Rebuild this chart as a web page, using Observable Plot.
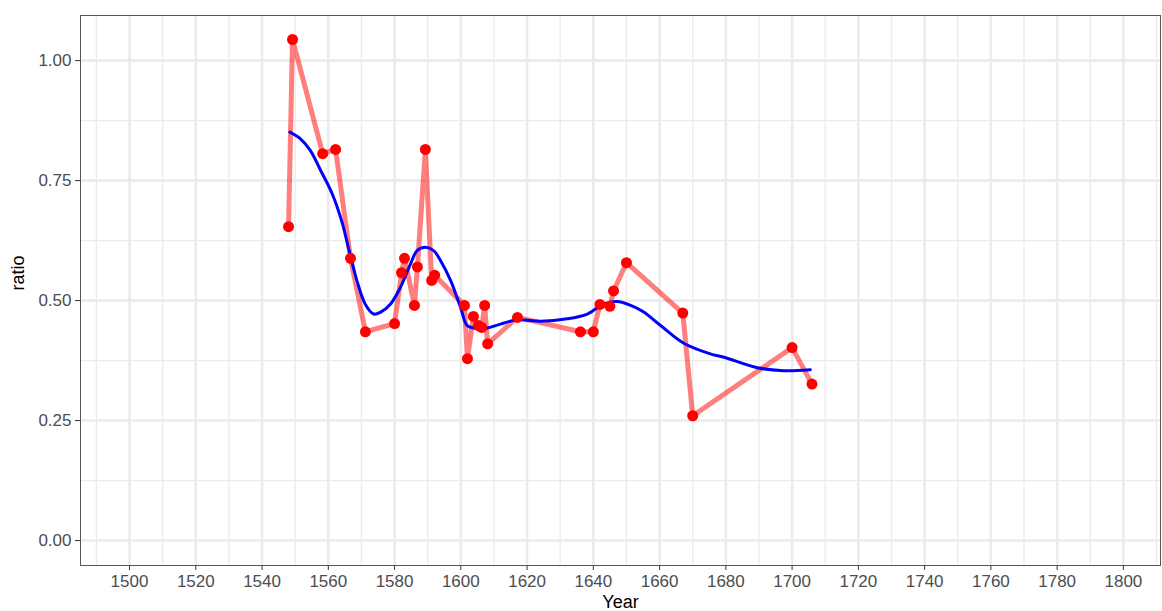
<!DOCTYPE html>
<html>
<head>
<meta charset="utf-8">
<script src="https://cdn.jsdelivr.net/npm/d3@7"></script>
<script src="https://cdn.jsdelivr.net/npm/@observablehq/plot@0.6"></script>
<style>
  html, body { margin: 0; padding: 0; background: #fff; }
  #chart svg { display: block; }
</style>
</head>
<body>
<div id="chart"></div>
<script>
// Observed data (Year, ratio)
const years = [1548.0, 1549.2, 1558.3, 1562.2, 1566.7, 1571.2, 1580.0, 1582.1, 1583.0, 1586.0,
  1586.9, 1589.3, 1591.2, 1592.1, 1601.1, 1602.0, 1603.8, 1605.3, 1606.3, 1607.2,
  1608.1, 1617.1, 1636.1, 1640.0, 1642.0, 1645.0, 1646.1, 1650.0, 1667.0, 1670.0,
  1700.0, 1706.0];
const ratios = [0.654, 1.044, 0.806, 0.815, 0.588, 0.435, 0.452, 0.558, 0.588, 0.490,
  0.570, 0.815, 0.542, 0.553, 0.490, 0.379, 0.467, 0.448, 0.444, 0.490,
  0.410, 0.465, 0.435, 0.435, 0.492, 0.488, 0.520, 0.579, 0.474, 0.260,
  0.402, 0.326];

// Smoothed trend
const smoothYears = [1548.4, 1551.6, 1554.6, 1557.7, 1561.2, 1564.2, 1565.7, 1568.7, 1571.2, 1573.7,
  1575.8, 1578.8, 1581.8, 1584.8, 1586.8, 1589.3, 1591.8, 1593.9, 1596.9, 1599.9,
  1601.9, 1603.9, 1608.0, 1612.0, 1617.0, 1624.1, 1632.1, 1638.2, 1643.2, 1647.2,
  1651.3, 1655.2, 1660.3, 1667.3, 1675.3, 1679.4, 1689.5, 1697.5, 1705.5];
const smoothRatios = [0.851, 0.837, 0.8125, 0.771, 0.722, 0.662, 0.621, 0.540, 0.492, 0.472,
  0.476, 0.493, 0.528, 0.576, 0.604, 0.611, 0.604, 0.583, 0.542, 0.486,
  0.448, 0.443, 0.443, 0.451, 0.460, 0.457, 0.462, 0.472, 0.493, 0.498,
  0.490, 0.476, 0.448, 0.411, 0.389, 0.382, 0.360, 0.354, 0.356];

// Axis ticks
const xTicks = [1500, 1520, 1540, 1560, 1580, 1600, 1620, 1640, 1660, 1680, 1700, 1720, 1740, 1760, 1780, 1800];
const xMinor = [1490, 1510, 1530, 1550, 1570, 1590, 1610, 1630, 1650, 1670, 1690, 1710, 1730, 1750, 1770, 1790, 1810];
const yTicks = [0, 0.25, 0.5, 0.75, 1.0];
const yMinor = [0.125, 0.375, 0.625, 0.875];

const obs = years.map((y, i) => ({Year: y, ratio: ratios[i]}));
const smooth = smoothYears.map((y, i) => ({Year: y, ratio: smoothRatios[i]}));

const chart = Plot.plot({
  width: 1162,
  height: 611,
  marginLeft: 80,
  marginTop: 15,
  marginRight: 2,
  marginBottom: 46,
  style: {fontFamily: "'Liberation Sans', Arial, sans-serif", fontSize: "17px", color: "#4d4d4d", background: "#fff"},
  x: {domain: [1485.2, 1811.2]},
  y: {domain: [-0.052, 1.094]},
  marks: [
    Plot.ruleX(xMinor, {stroke: "#ebebeb", strokeWidth: 1.3}),
    Plot.ruleY(yMinor, {stroke: "#ebebeb", strokeWidth: 1.3}),
    Plot.ruleX(xTicks, {stroke: "#ebebeb", strokeWidth: 2.6}),
    Plot.ruleY(yTicks, {stroke: "#ebebeb", strokeWidth: 2.6}),
    Plot.axisX({ticks: xTicks, tickFormat: d => String(d), tickSize: 5, tickPadding: 4, stroke: "#333", label: null, fontSize: 17}),
    Plot.axisY({ticks: yTicks, tickFormat: d => d.toFixed(2), tickSize: 5, tickPadding: 4, stroke: "#333", label: null, fontSize: 17}),
    Plot.line(obs, {x: "Year", y: "ratio", stroke: "#ff0000", strokeOpacity: 0.5, strokeWidth: 5, strokeLinejoin: "round"}),
    Plot.line(smooth, {x: "Year", y: "ratio", stroke: "#0000ff", strokeWidth: 3, curve: "catmull-rom"}),
    Plot.dot(obs, {x: "Year", y: "ratio", r: 5.5, fill: "#ff0000", stroke: "none"}),
    Plot.frame({stroke: "#555", strokeWidth: 1}),
    Plot.text(["ratio"], {frameAnchor: "left", dx: -62, text: d => d, rotate: -90, fill: "#000", fontSize: 18}),
    Plot.text(["Year"], {frameAnchor: "bottom", dy: 42, text: d => d, fill: "#000", fontSize: 18})
  ]
});
document.getElementById("chart").appendChild(chart);
</script>
</body>
</html>
